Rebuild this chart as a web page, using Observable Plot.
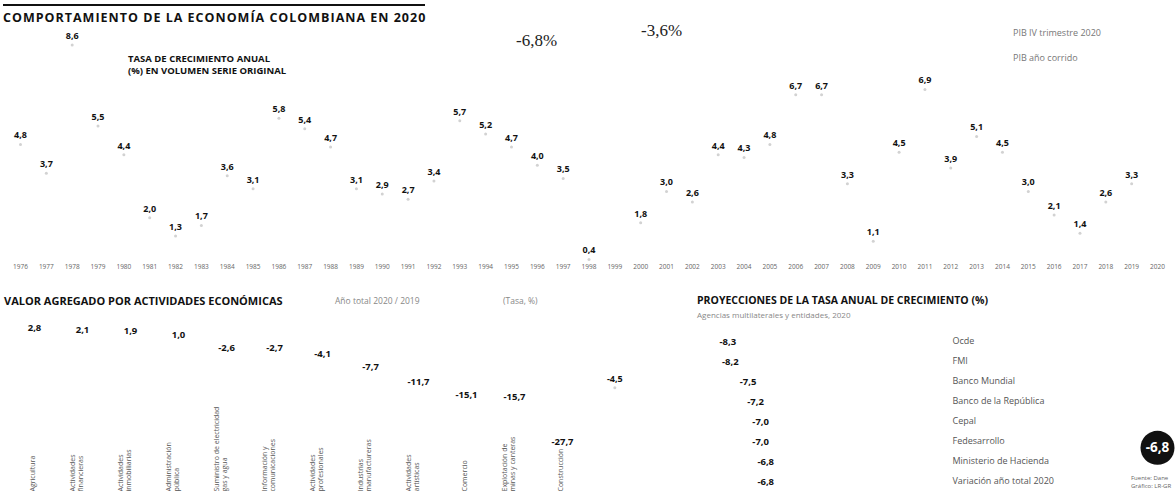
<!DOCTYPE html>
<html>
<head>
<meta charset="utf-8">
<script src="https://cdn.jsdelivr.net/npm/d3@7"></script>
<script src="https://cdn.jsdelivr.net/npm/@observablehq/plot@0.6"></script>
<style>
  body { margin: 0; background: #fff; font-family: "Open Sans", sans-serif; }
  #wrap { position: relative; width: 1176px; height: 491px; overflow: hidden; background: #fff; }
  .abs { position: absolute; white-space: nowrap; }
  .layer { position: absolute; }
  .rule { position: absolute; left: 3px; top: 4px; width: 422px; height: 2px; background: #111; }
  .title { left: 3px; top: 9px; font-size: 12.5px; font-weight: 700; letter-spacing: 1px; color: #111; }
  .sub1 { left: 128px; top: 53px; font-size: 9.5px; font-weight: 700; line-height: 12px; color: #111; }
  .big { font-family: "Liberation Serif", serif; font-size: 17px; color: #222; }
  .leg { font-size: 9px; color: #777; }
  .h2 { font-size: 11px; font-weight: 700; color: #111; }
  .note { font-size: 8.5px; color: #888; }
  .src { font-size: 6px; color: #666; line-height: 8px; }
</style>
</head>
<body>
<div id="wrap">
  <div class="rule"></div>
  <div class="abs title">COMPORTAMIENTO DE LA ECONOMÍA COLOMBIANA EN 2020</div>
  <div class="abs sub1">TASA DE CRECIMIENTO ANUAL<br>(%) EN VOLUMEN SERIE ORIGINAL</div>
  <div class="abs big" style="left:516px;top:31px;">-6,8%</div>
  <div class="abs big" style="left:641px;top:21px;">-3,6%</div>
  <div class="abs leg" style="left:1013px;top:26px;">PIB IV trimestre 2020</div>
  <div class="abs leg" style="left:1013px;top:51px;">PIB año corrido</div>
  <div class="abs h2" style="left:4px;top:293px;">VALOR AGREGADO POR ACTIVIDADES ECONÓMICAS</div>
  <div class="abs note" style="left:335px;top:295px;">Año total 2020 / 2019</div>
  <div class="abs note" style="left:503px;top:295px;">(Tasa, %)</div>
  <div class="abs h2" style="left:697px;top:293px;font-size:10.5px;">PROYECCIONES DE LA TASA ANUAL DE CRECIMIENTO (%)</div>
  <div class="abs note" style="left:697px;top:309px;font-size:8px;">Agencias multilaterales y entidades, 2020</div>
  <div class="abs src" style="left:1131px;top:474px;">Fuente: Dane<br>Gráfico: LR-GR</div>
  <div class="layer" id="bl" style="left:0;top:305px;"></div>
  <div class="layer" id="pr" style="left:690px;top:325px;"></div>
  <div class="layer" id="top" style="left:0;top:0;"></div>
</div>
<script>
// ---- Data ----
const years = [1976, 1977, 1978, 1979, 1980, 1981, 1982, 1983, 1984, 1985, 1986, 1987, 1988, 1989, 1990,
  1991, 1992, 1993, 1994, 1995, 1996, 1997, 1998, 1999, 2000, 2001, 2002, 2003, 2004, 2005, 2006, 2007,
  2008, 2009, 2010, 2011, 2012, 2013, 2014, 2015, 2016, 2017, 2018, 2019, 2020];
const growth = [4.8, 3.7, 8.6, 5.5, 4.4, 2.0, 1.3, 1.7, 3.6, 3.1, 5.8, 5.4, 4.7, 3.1, 2.9,
  2.7, 3.4, 5.7, 5.2, 4.7, 4.0, 3.5, 0.4, -4.5, 1.8, 3.0, 2.6, 4.4, 4.3, 4.8, 6.7, 6.7,
  3.3, 1.1, 4.5, 6.9, 3.9, 5.1, 4.5, 3.0, 2.1, 1.4, 2.6, 3.3, -6.8];
const highlightYear = 2020;

const sectors = ["Agricultura", "Actividades\nfinancieras", "Actividades\ninmobiliarias",
  "Administración\npública", "Suministro de electricidad\ngas y agua", "Información y\ncomunicaciones",
  "Actividades\nprofesionales", "Industrias\nmanufactureras", "Actividades\nartísticas",
  "Comercio", "Explotación de\nminas y canteras", "Construcción"];
const sectorGrowth = [2.8, 2.1, 1.9, 1.0, -2.6, -2.7, -4.1, -7.7, -11.7, -15.1, -15.7, -27.7];

const forecasters = ["Ocde", "FMI", "Banco Mundial", "Banco de la República", "Cepal",
  "Fedesarrollo", "Ministerio de Hacienda", "Variación año total 2020"];
const forecasts = [-8.3, -8.2, -7.5, -7.2, -7.0, -7.0, -6.8, -6.8];

const fmt = v => v.toFixed(1).replace(".", ",");
const baseStyle = {background: "transparent", fontFamily: "Open Sans", overflow: "visible"};

// ---- Top: annual growth series ----
const series = years.map((year, i) => ({year, value: growth[i]}));
const regular = series.filter(d => d.year !== highlightYear);
const highlight = series.filter(d => d.year === highlightYear);

const topPlot = Plot.plot({
  width: 1176, height: 491,
  marginTop: 34, marginBottom: 232, marginLeft: 20, marginRight: 19,
  style: baseStyle,
  x: {type: "point", domain: years, padding: 0},
  y: {domain: [0.4, 9], axis: null},
  marks: [
    Plot.axisX({tickSize: 0, tickPadding: 5, fontSize: 6.5, fill: "#666", tickFormat: d => String(d), label: null}),
    Plot.dot(regular, {x: "year", y: "value", r: 1.5, fill: "#d2d2d2"}),
    Plot.text(regular, {x: "year", y: "value", text: d => fmt(d.value), dy: -9,
      fontWeight: "bold", fontSize: 9, fill: "#111"}),
    Plot.dot(highlight, {x: "year", y: "value", r: 17, fill: "#111"}),
    Plot.text(highlight, {x: "year", y: "value", text: d => fmt(d.value),
      fontWeight: "bold", fontSize: 13.5, fill: "white"})
  ]
});
document.getElementById("top").appendChild(topPlot);

// ---- Bottom left: value added by activity ----
const sectorRows = sectors.map((sector, i) => ({sector, value: sectorGrowth[i]}));
const blPlot = Plot.plot({
  width: 600, height: 186,
  marginTop: 14, marginBottom: 0, marginLeft: 6, marginRight: 10,
  style: baseStyle,
  x: {type: "point", domain: sectors, padding: 0.5, axis: null},
  y: {domain: [-41, 5], axis: null},
  marks: [
    Plot.text(sectorRows, {x: "sector", y: "value", text: d => fmt(d.value),
      fontWeight: "bold", fontSize: 9.5, fill: "#111"}),
    Plot.text(sectors, {x: d => d, text: d => d, frameAnchor: "bottom", rotate: -90,
      textAnchor: "start", fontSize: 7, fill: "#555", lineHeight: 1.1})
  ]
});
document.getElementById("bl").appendChild(blPlot);

// ---- Bottom right: projections ----
const forecastRows = forecasters.map((name, i) => ({name, value: forecasts[i]}));
const prPlot = Plot.plot({
  width: 486, height: 168,
  marginTop: 3, marginBottom: 0, marginLeft: 7, marginRight: 239,
  style: baseStyle,
  x: {domain: [-9.5, 0], axis: null},
  y: {type: "point", domain: forecasters, padding: 0.5},
  marks: [
    Plot.text(forecastRows, {x: "value", y: "name", text: d => fmt(d.value),
      fontWeight: "bold", fontSize: 9.5, fill: "#111"}),
    Plot.axisY({anchor: "right", tickSize: 0, tickPadding: 15, fontSize: 9, fill: "#555", label: null})
  ]
});
document.getElementById("pr").appendChild(prPlot);
</script>
</body>
</html>
